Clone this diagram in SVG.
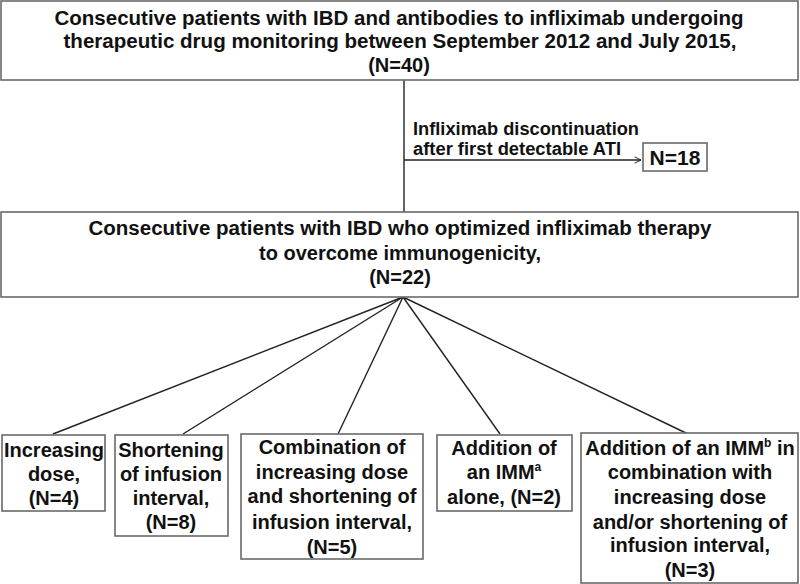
<svg xmlns="http://www.w3.org/2000/svg" width="800" height="584" viewBox="0 0 800 584">
<style>
.box{fill:#fff;stroke:#6a6a6a;stroke-width:1.6}
.t{font-family:"Liberation Sans",Arial,sans-serif;font-weight:bold;fill:#111;text-anchor:middle}
.h{font-size:20px}
.l{font-size:18px;text-anchor:start}
.b{font-size:20px}
.c{stroke:#222;stroke-width:1.4;fill:none}
</style>
<defs>
<marker id="arr" viewBox="0 0 10 10" refX="9" refY="5" markerWidth="8" markerHeight="8" markerUnits="userSpaceOnUse" orient="auto">
<polyline points="1,1 9,5 1,9" fill="none" stroke="#222" stroke-width="1.2"/>
</marker>
</defs>
<rect width="800" height="584" fill="#fff"/>
<g id="connectors">
<line class="c" x1="404" y1="80" x2="404" y2="212"/>
<line class="c" x1="404" y1="160" x2="641" y2="160" marker-end="url(#arr)"/>
<line class="c" x1="403" y1="297" x2="53" y2="434"/>
<line class="c" x1="403" y1="297" x2="183" y2="434"/>
<line class="c" x1="403" y1="297" x2="338" y2="434"/>
<line class="c" x1="403" y1="297" x2="500" y2="434"/>
<line class="c" x1="403" y1="297" x2="688" y2="434"/>
</g>
<g id="n-top">
<rect class="box" x="1" y="1" width="797" height="79"/>
<text class="t h" x="399" y="25" textLength="689" lengthAdjust="spacingAndGlyphs">Consecutive patients with IBD and antibodies to infliximab undergoing</text>
<text class="t h" x="400" y="48" textLength="673" lengthAdjust="spacingAndGlyphs">therapeutic drug monitoring between September 2012 and July 2015,</text>
<text class="t h" x="399" y="72">(N=40)</text>
</g>
<g id="n-disc-label">
<text class="t l" x="413" y="135" textLength="226" lengthAdjust="spacingAndGlyphs">Infliximab discontinuation</text>
<text class="t l" x="413" y="155" textLength="208" lengthAdjust="spacingAndGlyphs">after first detectable ATI</text>
</g>
<g id="n-18">
<rect class="box" x="643" y="143" width="64" height="28"/>
<text class="t" x="675" y="165" style="font-size:21px">N=18</text>
</g>
<g id="n-22">
<rect class="box" x="1" y="212" width="797" height="85"/>
<text class="t h" x="400" y="235" textLength="623" lengthAdjust="spacingAndGlyphs">Consecutive patients with IBD who optimized infliximab therapy</text>
<text class="t h" x="400" y="260">to overcome immunogenicity,</text>
<text class="t h" x="400" y="284">(N=22)</text>
</g>
<g id="n-dose">
<rect class="box" x="2" y="435" width="103" height="76"/>
<text class="t b" x="54" y="457">Increasing</text>
<text class="t b" x="54" y="481">dose,</text>
<text class="t b" x="54" y="505">(N=4)</text>
</g>
<g id="n-short">
<rect class="box" x="115" y="435" width="113" height="101"/>
<text class="t b" x="171" y="457">Shortening</text>
<text class="t b" x="171" y="481">of infusion</text>
<text class="t b" x="171" y="505">interval,</text>
<text class="t b" x="171" y="529">(N=8)</text>
</g>
<g id="n-combo">
<rect class="box" x="241" y="434" width="182" height="125"/>
<text class="t b" x="332" y="454">Combination of</text>
<text class="t b" x="332" y="479">increasing dose</text>
<text class="t b" x="332" y="503">and shortening of</text>
<text class="t b" x="332" y="529">infusion interval,</text>
<text class="t b" x="332" y="554">(N=5)</text>
</g>
<g id="n-imm">
<rect class="box" x="437" y="435" width="135" height="76"/>
<text class="t b" x="504" y="455">Addition of</text>
<text class="t b" x="504" y="479">an IMM<tspan dy="-8" font-size="12">a</tspan></text>
<text class="t b" x="504" y="504">alone, (N=2)</text>
</g>
<g id="n-immcombo">
<rect class="box" x="581" y="433" width="217" height="150"/>
<text class="t b" x="690" y="455">Addition of an IMM<tspan dy="-8" font-size="12">b</tspan><tspan dy="8"> in</tspan></text>
<text class="t b" x="690" y="479">combination with</text>
<text class="t b" x="690" y="504">increasing dose</text>
<text class="t b" x="690" y="529">and/or shortening of</text>
<text class="t b" x="690" y="552">infusion interval,</text>
<text class="t b" x="690" y="577">(N=3)</text>
</g>
</svg>
